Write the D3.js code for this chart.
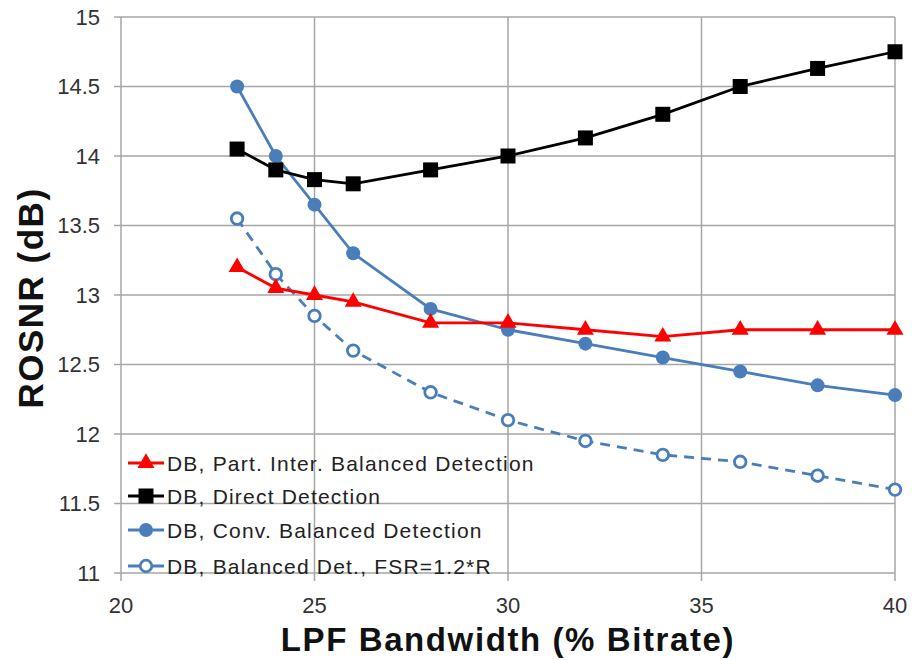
<!DOCTYPE html>
<html><head><meta charset="utf-8">
<script src="https://cdn.jsdelivr.net/npm/d3@7"></script>
<style>body{margin:0;background:#fff;} svg{display:block;}</style>
</head><body>
<svg id="chart" width="912" height="660"></svg>
<script>
const xValues = [23, 24, 25, 26, 28, 30, 32, 34, 36, 38, 40];
const partInter = [13.2, 13.05, 13.0, 12.95, 12.8, 12.8, 12.75, 12.7, 12.75, 12.75, 12.75];
const direct = [14.05, 13.9, 13.83, 13.8, 13.9, 14.0, 14.13, 14.3, 14.5, 14.63, 14.75];
const convBalanced = [14.5, 14.0, 13.65, 13.3, 12.9, 12.75, 12.65, 12.55, 12.45, 12.35, 12.28];
const balancedFSR = [13.55, 13.15, 12.85, 12.6, 12.3, 12.1, 11.95, 11.85, 11.8, 11.7, 11.6];
const xTicks = [20, 25, 30, 35, 40];
const yTicks = [11, 11.5, 12, 12.5, 13, 13.5, 14, 14.5, 15];
const seriesNames = ["DB, Part. Inter. Balanced Detection", "DB, Direct Detection", "DB, Conv. Balanced Detection", "DB, Balanced Det., FSR=1.2*R"];

const series = [
  {name: seriesNames[0], values: partInter, color: "#ff0000", marker: "triangle", dash: null},
  {name: seriesNames[1], values: direct, color: "#000000", marker: "square", dash: null},
  {name: seriesNames[2], values: convBalanced, color: "#4a7ebb", marker: "circle", dash: null},
  {name: seriesNames[3], values: balancedFSR, color: "#4a7ebb", marker: "open", dash: "10,7"}
];

const svg = d3.select("#chart");
const x = d3.scaleLinear().domain([20, 40]).range([121, 895]);
const y = d3.scaleLinear().domain([11, 15]).range([573, 17]);
const grid = "#a6a6a6";
const font = "Arial, 'Liberation Sans', sans-serif";

// horizontal gridlines
svg.append("g").selectAll("line").data(yTicks).join("line")
  .attr("x1", x(20) - 7).attr("x2", x(40))
  .attr("y1", d => y(d)).attr("y2", d => y(d))
  .attr("stroke", grid).attr("stroke-width", 1.5);
// vertical gridlines
svg.append("g").selectAll("line").data(xTicks).join("line")
  .attr("x1", d => x(d)).attr("x2", d => x(d))
  .attr("y1", y(15)).attr("y2", y(11) + 8)
  .attr("stroke", grid).attr("stroke-width", 1.5);

// tick labels
svg.append("g").selectAll("text").data(yTicks).join("text")
  .attr("x", 100).attr("y", d => y(d)).attr("dy", "0.36em")
  .attr("text-anchor", "end").attr("font-family", font).attr("font-size", 22)
  .attr("fill", "#333").text(d => d);
svg.append("g").selectAll("text").data(xTicks).join("text")
  .attr("x", d => x(d)).attr("y", 605).attr("dy", "0.36em")
  .attr("text-anchor", "middle").attr("font-family", font).attr("font-size", 22)
  .attr("fill", "#333").text(d => d);

// axis titles
svg.append("text").attr("x", 508).attr("y", 651)
  .attr("text-anchor", "middle").attr("font-family", font).attr("font-size", 33)
  .attr("letter-spacing", 1.6).attr("font-weight", "bold").attr("fill", "#111").text("LPF Bandwidth (% Bitrate)");
svg.append("text").attr("transform", "translate(43,298) rotate(-90)")
  .attr("text-anchor", "middle").attr("font-family", font).attr("font-size", 35)
  .attr("letter-spacing", 1.5).attr("font-weight", "bold").attr("fill", "#111").text("ROSNR (dB)");

function drawMarker(g, type, color) {
  if (type === "triangle") {
    g.append("path").attr("d", d3.symbol().type(d3.symbolTriangle).size(125)()).attr("fill", color);
  } else if (type === "square") {
    g.append("rect").attr("x", -7.5).attr("y", -7.5).attr("width", 15).attr("height", 15).attr("fill", color);
  } else if (type === "circle") {
    g.append("circle").attr("r", 7).attr("fill", color);
  } else {
    g.append("circle").attr("r", 5.8).attr("fill", "#fff").attr("stroke", color).attr("stroke-width", 2.8);
  }
}

const line = d3.line().x((d, i) => x(xValues[i])).y(d => y(d));
const drawOrder = [3, 2, 0, 1];
drawOrder.forEach(k => {
  const s = series[k];
  svg.append("path").datum(s.values).attr("d", line)
    .attr("fill", "none").attr("stroke", s.color).attr("stroke-width", 2.8)
    .attr("stroke-dasharray", s.dash);
  s.values.forEach((v, i) => {
    const g = svg.append("g").attr("transform", `translate(${x(xValues[i])},${y(v)})`);
    drawMarker(g, s.marker, s.color);
  });
});

// legend
const legendY = [463, 496, 530, 566];
series.forEach((s, i) => {
  const g = svg.append("g").attr("transform", `translate(0,${legendY[i]})`);
  g.append("line").attr("x1", 128).attr("x2", 164).attr("y1", 0).attr("y2", 0)
    .attr("stroke", s.color).attr("stroke-width", 2.8);
  const m = g.append("g").attr("transform", "translate(146,0)");
  drawMarker(m, s.marker, s.color);
  g.append("text").attr("x", 167).attr("y", 0).attr("dy", "0.36em")
    .attr("font-family", font).attr("font-size", 21).attr("letter-spacing", 1.2)
    .attr("fill", "#222").text(s.name);
});
</script>
</body></html>
